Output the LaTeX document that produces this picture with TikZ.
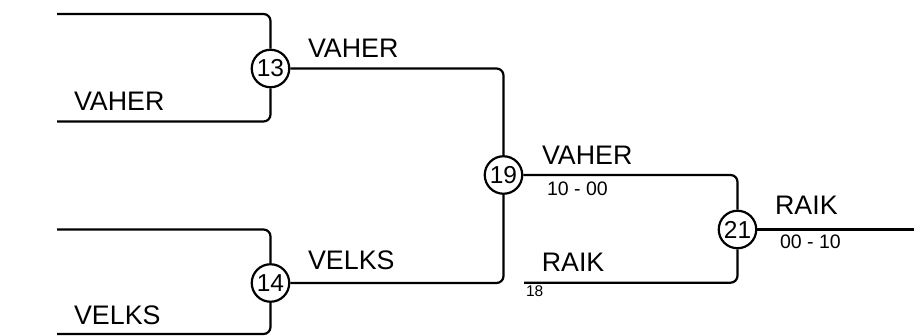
\documentclass[tikz,border=0pt]{standalone}
\usepackage{fontspec}
\setmainfont{Liberation Sans}

\begin{document}
\begin{tikzpicture}[x=1pt,y=-1pt,line width=2.2pt,
  game/.style={draw,circle,minimum size=37.5pt,inner sep=0pt,font=\fontsize{24.5}{26}\selectfont},
  team/.style={anchor=base west,inner sep=0pt,font=\fontsize{26.8}{30}\selectfont},
  score/.style={anchor=base west,inner sep=0pt,font=\fontsize{19.5}{22}\selectfont},
  seed/.style={anchor=base west,inner sep=0pt,font=\fontsize{15.5}{18}\selectfont},
  bracket/.style={rounded corners=7pt}]
      \useasboundingbox (0,0) rectangle (914,336);
      \node[game] (g13) at (270.5,68.5) {13};
      \node[game] (g14) at (270.5,283) {14};
      \node[game] (g19) at (503.5,175) {19};
      \node[game] (g21) at (737.5,229.5) {21};
      \coordinate (s1) at (57,14);
      \coordinate (s2) at (57,121.5);
      \coordinate (s3) at (57,229.5);
      \coordinate (s4) at (57,334);
      \coordinate (s18) at (524,282.7);
      \coordinate (fin) at (914,229.5);
      % brackets
      \draw[bracket] (s1) -| (g13);
      \draw[bracket] (s2) -| (g13);
      \draw[bracket] (s3) -| (g14);
      \draw[bracket] (s4) -| (g14);
      \draw[bracket] (g13) -| (g19);
      \draw[bracket] (g14) -| (g19);
      \draw[bracket] (g19) -| (g21);
      \draw[bracket] (s18) -| (g21);
      \draw (g21) -- (fin);
      % names
      \node[team] (n1) at (73,110.7) {VAHER};
      \node[team] (n2) at (73,325) {VELKS};
      \node[team] (n13) at (307,58) {VAHER};
      \node[team] (n14) at (307,270) {VELKS};
      \node[team] (n19) at (541,165) {VAHER};
      \node[team] (n18) at (540.7,271.7) {RAIK};
      \node[team] (n21) at (774,215) {RAIK};
      \node[score] (r19) at (546,196) {10 - 00};
      \node[score] (r21) at (779,249) {00 - 10};
      \node[seed] (d18) at (525,296.7) {18};
    \end{tikzpicture}
\end{document}
